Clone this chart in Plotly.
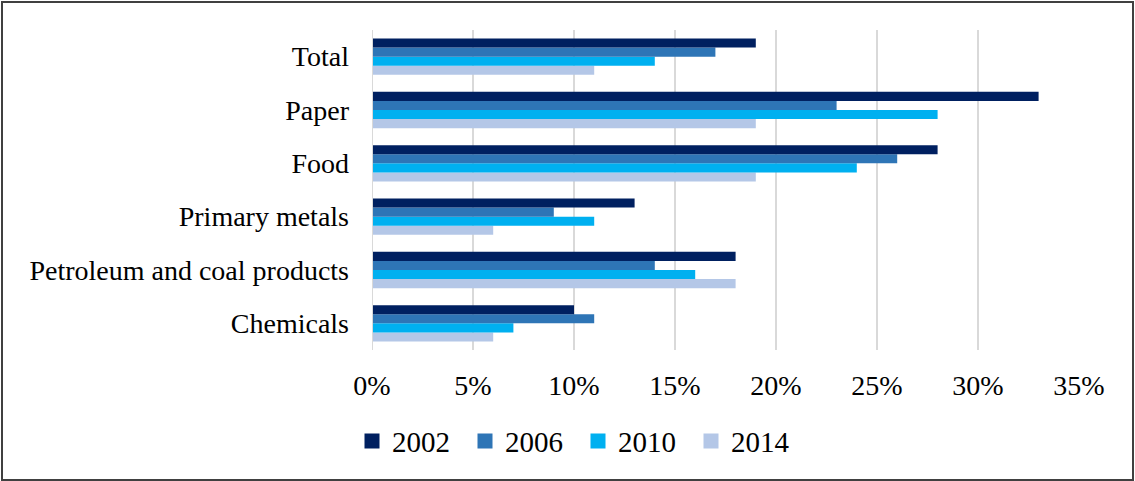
import plotly.graph_objects as go

categories = ["Chemicals", "Petroleum and coal products", "Primary metals", "Food", "Paper", "Total"]
years = ["2002", "2006", "2010", "2014"]
v2002 = [10, 18, 13, 28, 33, 19]
v2006 = [11, 14, 9, 26, 23, 17]
v2010 = [7, 16, 11, 24, 28, 14]
v2014 = [6, 18, 6, 19, 19, 11]
colors = ["#002060", "#2E75B6", "#00B0F0", "#B4C7E7"]
x_ticks = [0, 5, 10, 15, 20, 25, 30, 35]

series = [v2002, v2006, v2010, v2014]
FONT = "Liberation Serif"

fig = go.Figure()
# add in reverse so 2002 appears on top within each group
for name, vals, col in reversed(list(zip(years, series, colors))):
    fig.add_trace(go.Bar(y=categories, x=vals, name=name, orientation="h",
                         marker=dict(color=col, line=dict(width=0)),
                         showlegend=False))
# legend entries with larger square swatches
for name, col in zip(years, colors):
    fig.add_trace(go.Scatter(x=[None], y=[None], mode="markers", name=name,
                             marker=dict(symbol="square", size=15, color=col),
                             showlegend=True))

W, H = 1135, 481
ml, mr, mt, mb = 372, 56, 30, 131
pw, ph = W - ml - mr, H - mt - mb

fig.update_layout(
    width=W, height=H,
    margin=dict(l=ml, r=mr, t=mt, b=mb),
    paper_bgcolor="white", plot_bgcolor="white",
    barmode="group", bargap=0.32, bargroupgap=0,
    font=dict(family=FONT, size=28, color="#000000"),
    showlegend=True,
    legend=dict(orientation="h", x=-20 / pw, xanchor="left", y=-0.205, yanchor="top",
                font=dict(size=29, family=FONT),
                entrywidth=68, entrywidthmode="pixels"),
    xaxis=dict(range=[0, 35], tickvals=x_ticks, ticktext=[f"{t}%" for t in x_ticks],
               showgrid=True, gridcolor="#D9D9D9", gridwidth=2, zeroline=False,
               showline=False, ticks="", ticklabelstandoff=16, fixedrange=True,
               tickfont=dict(size=28)),
    yaxis=dict(showgrid=False, zeroline=False, showline=False, ticks="",
               ticklabelstandoff=22, fixedrange=True, tickfont=dict(size=28)),
    shapes=[dict(type="line", xref="x", yref="paper", x0=0, x1=0, y0=0, y1=1,
                 line=dict(color="#D9D9D9", width=2)),
            dict(type="rect", xref="paper", yref="paper",
                 x0=(-ml + 2) / pw, x1=(W - ml - 2) / pw,
                 y0=-(mb - 1) / ph, y1=1 + (mt - 2) / ph,
                 line=dict(color="#404040", width=2), layer="below")],
)
fig.write_html("out.html")
